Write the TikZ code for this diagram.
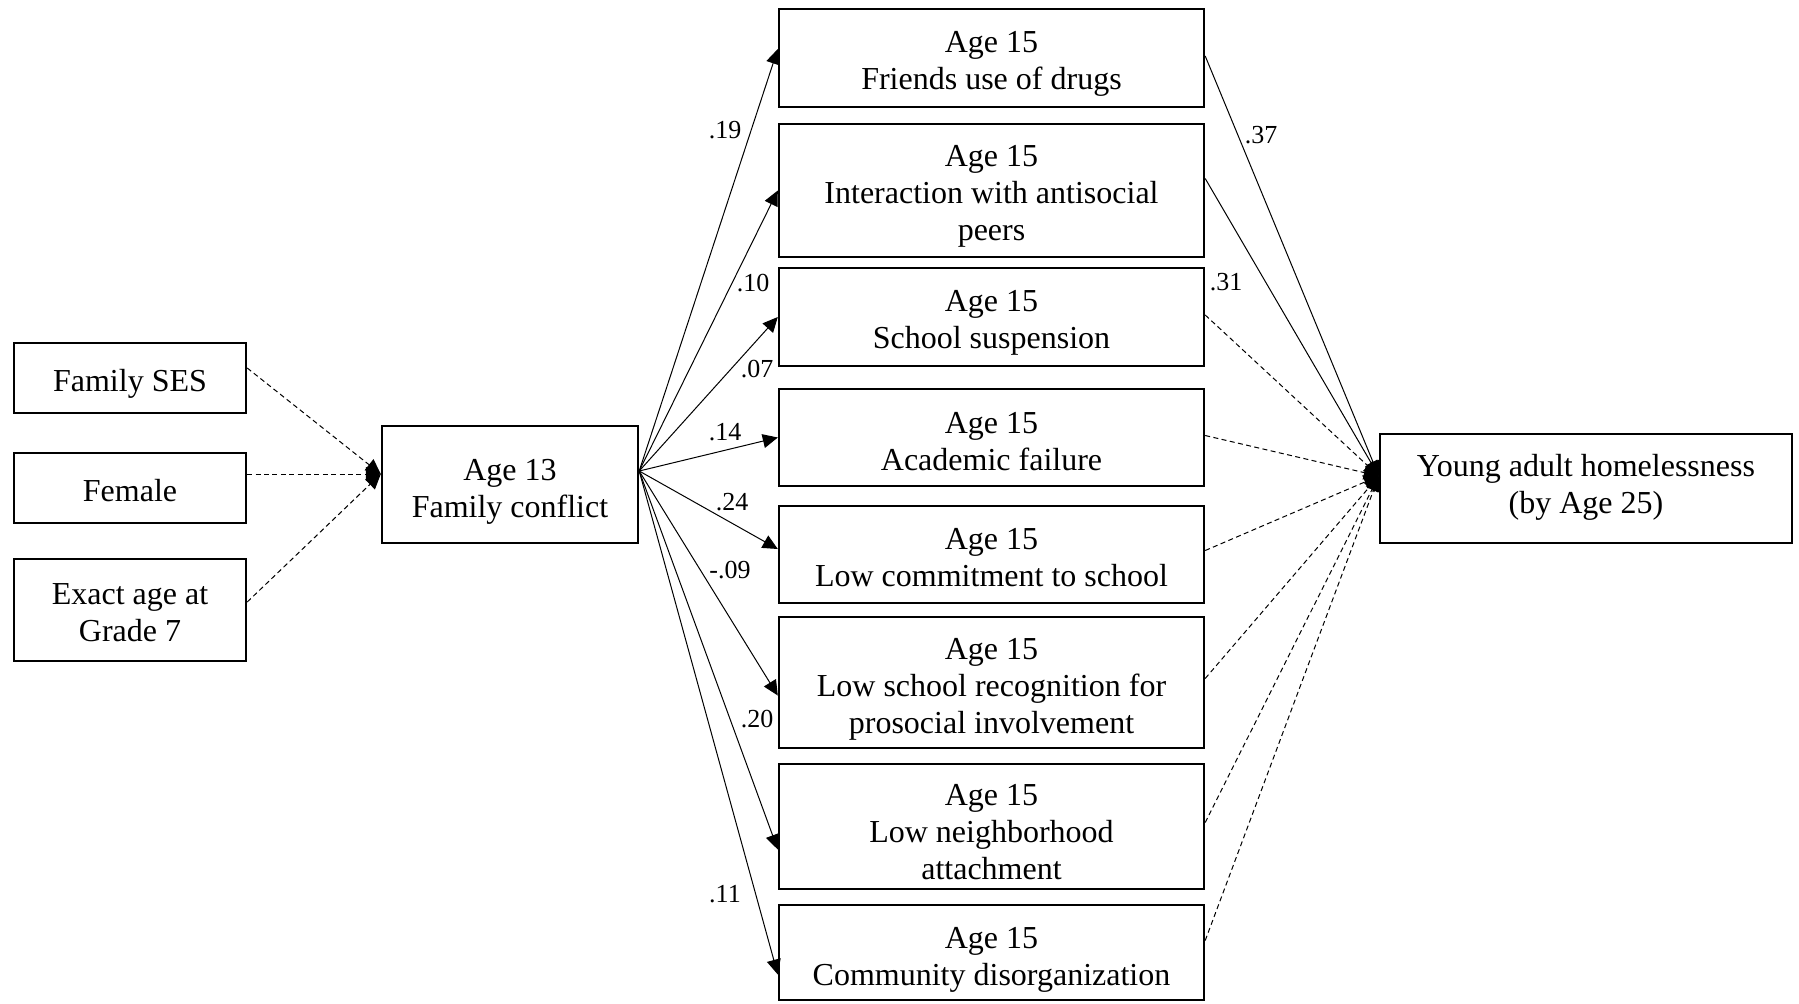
\documentclass[tikz,border=0pt]{standalone}
\usepackage{fontspec}
\setmainfont{Liberation Serif}
\usetikzlibrary{arrows.meta}
\newcommand{\bt}[2]{\raisebox{-#1}[\height][\depth]{\begin{tabular}{@{}c@{}}#2\end{tabular}}}
\tikzset{
  box/.style={draw, line width=1.2pt, inner sep=2pt, font=\fontsize{16}{18.5}\selectfont},
  lab/.style={font=\fontsize{13}{15}\selectfont, inner sep=0pt},
  arr/.style={-{Triangle[length=7.5pt,width=7pt]}, line width=0.5pt},
  darr/.style={arr, dash pattern=on 2.5pt off 1.7pt}
}
\begin{document}
\begin{tikzpicture}[x=0.5pt,y=-0.5pt]
\useasboundingbox (0,0) rectangle (1799,1003);
% left boxes
\node[box, minimum width=116pt, minimum height=35pt] (ses) at (130,378) {\bt{3.2pt}{Family SES}};
\node[box, minimum width=116pt, minimum height=35pt] (fem) at (130,488) {\bt{3.2pt}{Female}};
\node[box, minimum width=116pt, minimum height=51pt] (exa) at (130,610) {\bt{3pt}{Exact age at\\Grade 7}};
\node[box, minimum width=128pt, minimum height=58.5pt] (fc) at (510,484.5) {\bt{3.4pt}{Age 13\\Family conflict}};
% middle boxes
\node[box, minimum width=212.5pt, minimum height=49pt] (m1) at (991.5,58) {\bt{2.6pt}{Age 15\\Friends use of drugs}};
\node[box, minimum width=212.5pt, minimum height=66.5pt] (m2) at (991.5,190.5) {\bt{3pt}{Age 15\\Interaction with antisocial\\peers}};
\node[box, minimum width=212.5pt, minimum height=49pt] (m3) at (991.5,317) {\bt{3pt}{Age 15\\School suspension}};
\node[box, minimum width=212.5pt, minimum height=48.5pt] (m4) at (991.5,437.5) {\bt{3.4pt}{Age 15\\Academic failure}};
\node[box, minimum width=212.5pt, minimum height=48.5pt] (m5) at (991.5,554.5) {\bt{3pt}{Age 15\\Low commitment to school}};
\node[box, minimum width=212.5pt, minimum height=65.5pt] (m6) at (991.5,682.5) {\bt{3.4pt}{Age 15\\Low school recognition for\\prosocial involvement}};
\node[box, minimum width=212.5pt, minimum height=62.5pt] (m7) at (991.5,826.5) {\bt{4.4pt}{Age 15\\Low neighborhood\\attachment}};
\node[box, minimum width=212.5pt, minimum height=47.5pt] (m8) at (991.5,952.5) {\bt{3.4pt}{Age 15\\Community disorganization}};
% outcome
\node[box, minimum width=206pt, minimum height=54.5pt] (ya) at (1586,488.5) {\bt{-0.5pt}{Young adult homelessness\\(by Age 25)}};
% left dashed arrows
\draw[darr] ([yshift=5pt]ses.east) -- ([yshift=5.25pt]fc.west);
\draw[darr] ([yshift=7pt]fem.east) -- ([yshift=5.25pt]fc.west);
\draw[darr] ([yshift=4pt]exa.east) -- ([yshift=5.25pt]fc.west);
% fan from family conflict
\coordinate (fo) at ([yshift=6.75pt]fc.east);
\draw[arr] (fo) -- ([yshift=4.5pt]m1.west);
\draw[arr] (fo) -- (m2.west);
\draw[arr] (fo) -- (m3.west);
\draw[arr] (fo) -- (m4.west);
\draw[arr] (fo) -- ([yshift=2.75pt]m5.west);
\draw[arr] (fo) -- ([yshift=-6.5pt]m6.west);
\draw[arr] (fo) -- ([yshift=-11.5pt]m7.west);
\draw[arr] (fo) -- ([yshift=-11pt]m8.west);
% to outcome
\coordinate (yi) at ([yshift=6.25pt]ya.west);
\draw[arr] ([yshift=1pt]m1.east) -- (yi);
\draw[arr] ([yshift=6pt]m2.east) -- (yi);
\draw[darr] ([yshift=1pt]m3.east) -- (yi);
\draw[darr] ([yshift=1pt]m4.east) -- (yi);
\draw[darr] ([yshift=2pt]m5.east) -- (yi);
\draw[darr] ([yshift=2pt]m6.east) -- (yi);
\draw[darr] ([yshift=2pt]m7.east) -- (yi);
\draw[darr] ([yshift=6pt]m8.east) -- (yi);
% labels
\node[lab] (l1) at (725,130) {.19};
\node[lab] (l2) at (753,283) {.10};
\node[lab] (l3) at (757,369) {.07};
\node[lab] (l4) at (725,432.5) {.14};
\node[lab] (l5) at (732,502.5) {.24};
\node[lab] (l6) at (730,570) {-.09};
\node[lab] (l7) at (757,719) {.20};
\node[lab] (l8) at (725,894) {.11};
\node[lab] (l9) at (1261,135) {.37};
\node[lab] (l10) at (1226,282) {.31};
\end{tikzpicture}
\end{document}
